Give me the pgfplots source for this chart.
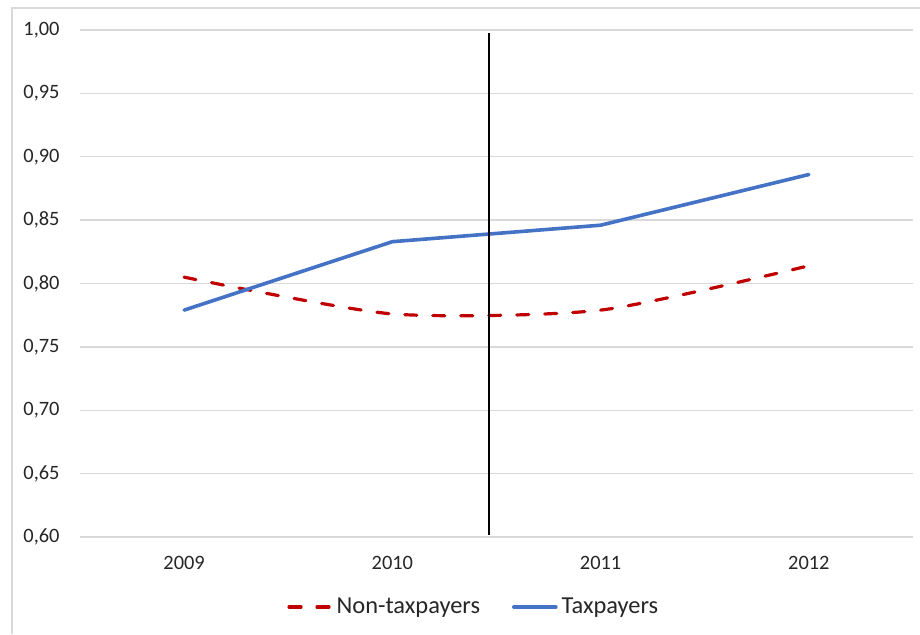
\documentclass[border=0pt]{standalone}
\usepackage{pgfplots}
\pgfplotsset{compat=1.18}
\usepackage{fontspec}
\setmainfont{Carlito}

\definecolor{taxblue}{HTML}{4472C4}
\definecolor{nontaxred}{HTML}{C00000}
\definecolor{gridgray}{HTML}{D9D9D9}
\definecolor{labelgray}{HTML}{262626}

\begin{document}
\begin{tikzpicture}
% chart area
\path[use as bounding box] (0,0) rectangle (460pt,317pt);
\draw[gridgray, line width=0.6pt] (6pt,0pt) -- (6pt,313pt) -- (460pt,313pt);

\begin{axis}[
  at={(40pt,48.5pt)}, anchor=south west,
  scale only axis, width=416.5pt, height=253.5pt,
  xmin=-0.5, xmax=3.5, ymin=0.6, ymax=1.0,
  xtick={0,1,2,3}, xticklabels={2009,2010,2011,2012},
  ytick={0.60,0.65,...,1.001},
  axis line style={draw=none},
  major tick length=0pt,
  ymajorgrids, grid style={gridgray, line width=0.7pt},
  yticklabel={\pgfmathprintnumber[fixed, fixed zerofill, precision=2, use comma]{\tick}},
  /pgf/number format/assume math mode=true,
  ticklabel style={font=\fontsize{10.2}{12}\selectfont, text=labelgray},
  yticklabel style={xshift=-6.7pt},
  xticklabel style={yshift=-6pt},
  legend columns=2,
  legend style={at={(0.474,-0.138)}, anchor=center, draw=none, fill=none,
    font=\fontsize{12.2}{14}\selectfont, text=labelgray,
    /tikz/every even column/.append style={column sep=14pt},
    inner sep=0pt},
  legend image code/.code={\draw[#1] (0pt,0pt) -- (21pt,0pt);},
]
\addplot[nontaxred, line width=1.6pt, line cap=round, dash pattern=on 6pt off 8pt, smooth, tension=0.4]
  coordinates {(0,0.805) (1,0.776) (2,0.779) (3,0.814)};
\addlegendentry{Non-taxpayers}
\addplot[taxblue, line width=1.8pt, line cap=round]
  coordinates {(0,0.779) (1,0.833) (2,0.846) (3,0.886)};
\addlegendentry{Taxpayers}
% marker between 2010 and 2011
\addplot[black, line width=1pt, forget plot]
  coordinates {(1.465,0.6016) (1.465,0.9976)};
\end{axis}
\end{tikzpicture}
\end{document}
